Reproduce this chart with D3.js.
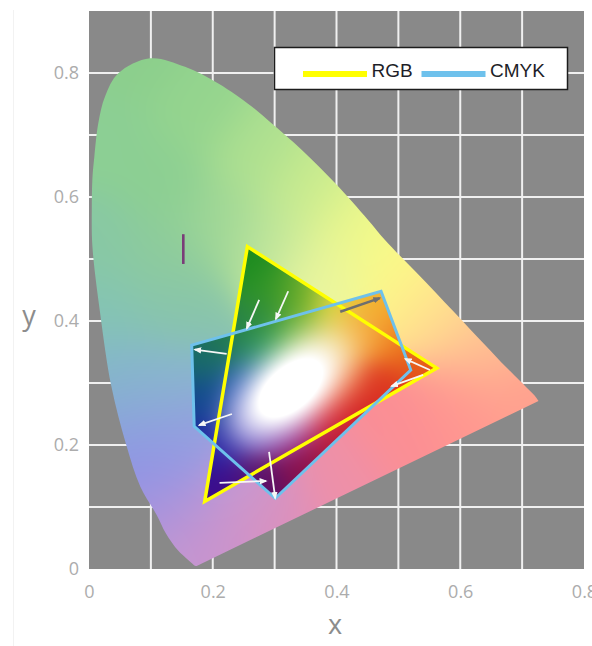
<!DOCTYPE html>
<html>
<head>
<meta charset="utf-8">
<title>CIE 1931 chromaticity diagram: RGB and CMYK gamuts</title>
<script src="https://cdn.jsdelivr.net/npm/d3@7/dist/d3.min.js"></script>
<style>
  html, body { margin: 0; padding: 0; background: #ffffff; }
  svg { display: block; }
</style>
</head>
<body>
<svg id="chart" width="592" height="646"></svg>
<script>
// ---- data ---------------------------------------------------------------
const xTicks = [0, 0.2, 0.4, 0.6, 0.8];
const yTicks = [0, 0.2, 0.4, 0.6, 0.8];
const xGrid = [0.1, 0.2, 0.3, 0.4, 0.5, 0.6, 0.7];
const yGrid = [0.1, 0.2, 0.3, 0.4, 0.5, 0.6, 0.7, 0.8];

// Spectral locus outline (x, y), from the violet end (380 nm) round to the red end
const spectralLocus = [
  [0.1741,0.0050],[0.1736,0.0049],[0.1726,0.0048],[0.1714,0.0051],[0.1689,0.0069],
  [0.1644,0.0109],[0.1566,0.0177],[0.1440,0.0297],[0.1241,0.0578],[0.1096,0.0868],
  [0.0830,0.1327],[0.0600,0.2007],[0.0360,0.2950],[0.0180,0.4127],[0.0055,0.5200],
  [0.0045,0.5800],[0.0055,0.6300],[0.0086,0.6650],[0.0150,0.7190],[0.0259,0.7620],
  [0.0474,0.7995],[0.0986,0.8237],[0.1552,0.8100],[0.2090,0.7830],[0.2630,0.7460],
  [0.2950,0.7190],[0.3440,0.6760],[0.3980,0.6220],[0.4510,0.5630],[0.4780,0.5310],
  [0.5125,0.4950],[0.5448,0.4620],[0.5752,0.4300],[0.6029,0.4010],[0.6270,0.3750],
  [0.6482,0.3530],[0.6658,0.3340],[0.6801,0.3197],[0.6915,0.3083],[0.7079,0.2920],
  [0.7190,0.2809],[0.7265,0.2710]
];

// Device gamuts (chromaticity vertices)
const rgbGamut  = [[0.256,0.520],[0.562,0.324],[0.187,0.109]];
const cmykGamut = [[0.166,0.361],[0.472,0.448],[0.520,0.321],[0.301,0.114],[0.170,0.230]];

const seriesNames  = ["RGB", "CMYK"];
const seriesColors = ["#ffff00", "#6ec1ec"];

// Gamut-mapping shifts: [from, to] in chromaticity
const whiteShifts = [
  [[0.275,0.434],[0.255,0.388]],
  [[0.322,0.448],[0.302,0.403]],
  [[0.2225,0.347],[0.171,0.354]],
  [[0.231,0.250],[0.178,0.232]],
  [[0.211,0.139],[0.286,0.142]],
  [[0.291,0.189],[0.301,0.114]],
  [[0.551,0.321],[0.511,0.339]],
  [[0.540,0.313],[0.489,0.295]]
];
const grayShifts = [
  [[0.406,0.415],[0.470,0.437]]
];

// Small vertical marker in the green region
const cursorMark = [[0.1524,0.540],[0.1524,0.492]];

// ---- colour fields (style) ---------------------------------------------
// Soft colours of the full visible region
const outerPalette = [
  [0.07,0.83,'#8ccf8c'],[0.02,0.70,'#8ccf94'],[0.18,0.74,'#94d48e'],[0.27,0.67,'#aee090'],
  [0.35,0.61,'#c8eb8e'],[0.42,0.55,'#e8f68c'],[0.48,0.51,'#fafc86'],[0.53,0.46,'#fff08a'],
  [0.58,0.41,'#ffd890'],[0.64,0.35,'#ffbc92'],[0.71,0.27,'#ffa08e'],[0.60,0.26,'#ff9690'],
  [0.50,0.22,'#fb8e94'],[0.40,0.15,'#ee90a8'],[0.30,0.09,'#e08fb8'],[0.22,0.04,'#cf92c8'],
  [0.17,0.02,'#c496d2'],[0.14,0.10,'#a994dc'],[0.10,0.18,'#9092e6'],[0.07,0.25,'#8aa4dc'],
  [0.04,0.32,'#84b8c8'],[0.03,0.42,'#84c4b4'],[0.02,0.52,'#88c8a4'],[0.12,0.50,'#8ecc9a'],
  [0.12,0.62,'#8ccf92'],[0.22,0.56,'#9ed696'],[0.30,0.53,'#c0e69c'],[0.38,0.48,'#ecf6a0'],
  [0.12,0.30,'#88b8cc'],[0.13,0.42,'#88c4ac'],[0.15,0.22,'#94a0e0'],[0.25,0.13,'#c09ad8']
].map(([cx, cy, c]) => { const r = d3.rgb(c); return [cx, cy, r.r, r.g, r.b]; });

// Saturated colours inside the device gamuts (outer rim and a ring round the white point)
const innerPalette = [
  [0.256,0.50,'#1a8a1e'],[0.29,0.46,'#2e9428'],[0.34,0.45,'#6aac2a'],[0.40,0.44,'#e0dc40'],
  [0.46,0.43,'#f4b430'],[0.45,0.39,'#f4a430'],[0.50,0.37,'#f08020'],[0.54,0.33,'#e4581a'],
  [0.48,0.29,'#dc3420'],[0.43,0.25,'#d02024'],[0.40,0.20,'#b41a38'],[0.35,0.16,'#8a1048'],
  [0.28,0.13,'#5a1068'],[0.21,0.13,'#3c0c8c'],[0.19,0.20,'#1a1aa0'],[0.18,0.27,'#124890'],
  [0.18,0.34,'#186a6a'],[0.22,0.38,'#22784c'],[0.27,0.40,'#2e8a3a'],
  [0.33,0.37,'#70b840'],[0.38,0.35,'#f0cc40'],[0.40,0.30,'#f06a30'],[0.38,0.25,'#e02838'],
  [0.33,0.23,'#9030a0'],[0.28,0.25,'#4a40c0'],[0.26,0.30,'#2c58c0'],[0.28,0.35,'#2a9a6a']
].map(([cx, cy, c]) => { const r = d3.rgb(c); return [cx, cy, r.r, r.g, r.b]; });

function fieldColor(palette, cx, cy, sigma) {
  let r = 0, g = 0, b = 0, ws = 0;
  const k = 1 / (2 * sigma * sigma);
  for (const p of palette) {
    const dx = cx - p[0], dy = cy - p[1];
    const w = Math.exp(-(dx * dx + dy * dy) * k) + 1e-12;
    r += w * p[2]; g += w * p[3]; b += w * p[4]; ws += w;
  }
  return [r / ws, g / ws, b / ws];
}

// White glow around the white point, elongated along the diagonal
function whiteness(cx, cy) {
  const dx = cx - 0.326, dy = cy - 0.292;
  const a = 40 * Math.PI / 180;
  const u = dx * Math.cos(a) + dy * Math.sin(a);
  const v = -dx * Math.sin(a) + dy * Math.cos(a);
  const r2 = (u / 0.108) ** 2 + (v / 0.060) ** 2;
  return Math.min(1, 1.25 * Math.exp(-Math.pow(r2, 1.3)));
}

// ---- layout -----------------------------------------------------------------
const W = 592, H = 646;
const svg = d3.select("#chart");
const x = d3.scaleLinear().domain([0, 0.8]).range([89, 584]);
const y = d3.scaleLinear().domain([0, 0.9]).range([569, 11]);

const defs = svg.append("defs");

// faint frame line
svg.append("line")
  .attr("x1", 13.5).attr("x2", 13.5).attr("y1", 10).attr("y2", H)
  .attr("stroke", "#f2f2f2").attr("stroke-width", 1);

// plot background
svg.append("rect")
  .attr("x", x(0)).attr("y", y(0.9))
  .attr("width", x(0.8) - x(0)).attr("height", y(0) - y(0.9))
  .attr("fill", "#898989");

// grid
const grid = svg.append("g").attr("stroke", "#f0f0f0").attr("stroke-width", 2);
grid.selectAll("line.gx").data(xGrid).join("line").attr("class", "gx")
  .attr("x1", d => x(d)).attr("x2", d => x(d))
  .attr("y1", y(0)).attr("y2", y(0.9));
grid.selectAll("line.gy").data(yGrid).join("line").attr("class", "gy")
  .attr("x1", x(0)).attr("x2", x(0.8))
  .attr("y1", d => y(d)).attr("y2", d => y(d));

// ---- chromaticity fill ---------------------------------------------------
// smooth spectral curve, closed by the straight purple line
const locusLine = d3.line()
  .x(d => x(d[0])).y(d => y(d[1]))
  .curve(d3.curveCatmullRom.alpha(0.5));

defs.append("clipPath").attr("id", "locus-clip")
  .append("path").attr("d", locusLine(spectralLocus) + "Z");

const canvas = document.createElement("canvas");
canvas.width = W; canvas.height = H;
const ctx = canvas.getContext("2d");
const img = ctx.createImageData(W, H);
const px0 = Math.floor(x(0)), px1 = Math.ceil(x(0.75));
const py0 = Math.floor(y(0.85)), py1 = Math.ceil(y(0));
for (let py = py0; py <= py1; py++) {
  for (let px = px0; px <= px1; px++) {
    const cx = x.invert(px + 0.5), cy = y.invert(py + 0.5);
    let c;
    if (d3.polygonContains(rgbGamut, [cx, cy]) || d3.polygonContains(cmykGamut, [cx, cy])) {
      const base = fieldColor(innerPalette, cx, cy, 0.032);
      const w = whiteness(cx, cy);
      c = base.map(v => v * (1 - w) + 255 * w);
    } else {
      c = fieldColor(outerPalette, cx, cy, 0.05);
    }
    const i = (py * W + px) * 4;
    img.data[i] = c[0]; img.data[i + 1] = c[1]; img.data[i + 2] = c[2]; img.data[i + 3] = 255;
  }
}
ctx.putImageData(img, 0, 0);

svg.append("image")
  .attr("href", canvas.toDataURL())
  .attr("x", 0).attr("y", 0).attr("width", W).attr("height", H)
  .attr("clip-path", "url(#locus-clip)");

// ---- gamut outlines ------------------------------------------------------
const polyLine = d3.line().x(d => x(d[0])).y(d => y(d[1])).curve(d3.curveLinearClosed);

svg.append("path").datum(rgbGamut)
  .attr("d", polyLine)
  .attr("fill", "none").attr("stroke", seriesColors[0])
  .attr("stroke-width", 3.5).attr("stroke-linejoin", "miter");

svg.append("path").datum(cmykGamut)
  .attr("d", polyLine)
  .attr("fill", "none").attr("stroke", seriesColors[1])
  .attr("stroke-width", 3).attr("stroke-linejoin", "miter");

// ---- shift arrows ----------------------------------------------------------
function addMarker(id, color) {
  defs.append("marker").attr("id", id)
    .attr("viewBox", "0 0 10 10").attr("refX", 8).attr("refY", 5)
    .attr("markerUnits", "userSpaceOnUse")
    .attr("markerWidth", 8).attr("markerHeight", 8)
    .attr("orient", "auto")
    .append("path").attr("d", "M0,1 L10,5 L0,9 Z").attr("fill", color);
}
addMarker("arrow-white", "#f6f6f6");
addMarker("arrow-gray", "#6e6e6e");

svg.append("g").selectAll("line").data(whiteShifts).join("line")
  .attr("x1", d => x(d[0][0])).attr("y1", d => y(d[0][1]))
  .attr("x2", d => x(d[1][0])).attr("y2", d => y(d[1][1]))
  .attr("stroke", "#f6f6f6").attr("stroke-width", 1.8)
  .attr("marker-end", "url(#arrow-white)");

svg.append("g").selectAll("line").data(grayShifts).join("line")
  .attr("x1", d => x(d[0][0])).attr("y1", d => y(d[0][1]))
  .attr("x2", d => x(d[1][0])).attr("y2", d => y(d[1][1]))
  .attr("stroke", "#6e6e6e").attr("stroke-width", 2.5)
  .attr("marker-end", "url(#arrow-gray)");

// small marker
svg.append("line")
  .attr("x1", x(cursorMark[0][0])).attr("y1", y(cursorMark[0][1]))
  .attr("x2", x(cursorMark[1][0])).attr("y2", y(cursorMark[1][1]))
  .attr("stroke", "#7a3c78").attr("stroke-width", 2.6);

// ---- axes -------------------------------------------------------------------
const tickFont = "'Open Sans', 'DejaVu Sans', sans-serif";

const xAxis = svg.append("g")
  .attr("transform", `translate(0,${y(0)})`)
  .call(d3.axisBottom(x).tickValues(xTicks).tickSize(0).tickPadding(16)
    .tickFormat(d => d === 0 ? "0" : d3.format(".1f")(d)));
xAxis.select(".domain").remove();
xAxis.selectAll("text")
  .attr("fill", "#acacac").style("font-family", tickFont).style("font-size", "18px");

const yAxis = svg.append("g")
  .attr("transform", `translate(${x(0)},0)`)
  .call(d3.axisLeft(y).tickValues(yTicks).tickSize(0).tickPadding(10)
    .tickFormat(d => d === 0 ? "0" : d3.format(".1f")(d)));
yAxis.select(".domain").remove();
yAxis.selectAll("text")
  .attr("fill", "#acacac").style("font-family", tickFont).style("font-size", "18px");

svg.append("text")
  .attr("x", 335).attr("y", 634)
  .attr("text-anchor", "middle")
  .attr("fill", "#8c8c8c").style("font-family", tickFont).style("font-size", "27px")
  .text("x");

svg.append("text")
  .attr("x", 29).attr("y", 325)
  .attr("text-anchor", "middle")
  .attr("fill", "#8c8c8c").style("font-family", tickFont).style("font-size", "27px")
  .text("y");

// ---- legend -----------------------------------------------------------------
const legend = svg.append("g");
legend.append("rect")
  .attr("x", 274.5).attr("y", 47.5).attr("width", 293).attr("height", 42)
  .attr("fill", "#ffffff").attr("stroke", "#1c1c1c").attr("stroke-width", 1.5);

const legendStarts = [303, 421.5];
const item = legend.selectAll("g.item").data(seriesNames).join("g")
  .attr("class", "item")
  .attr("transform", (d, i) => `translate(${legendStarts[i]},74)`);
item.append("line")
  .attr("x1", 0).attr("x2", 64).attr("y1", 0).attr("y2", 0)
  .attr("stroke", (d, i) => seriesColors[i]).attr("stroke-width", 6);
item.append("text")
  .attr("x", 68.5).attr("y", 3.3)
  .attr("fill", "#1e1e28")
  .style("font-family", "'Liberation Sans', Arial, sans-serif").style("font-size", "19px")
  .text(d => d);
</script>
</body>
</html>
